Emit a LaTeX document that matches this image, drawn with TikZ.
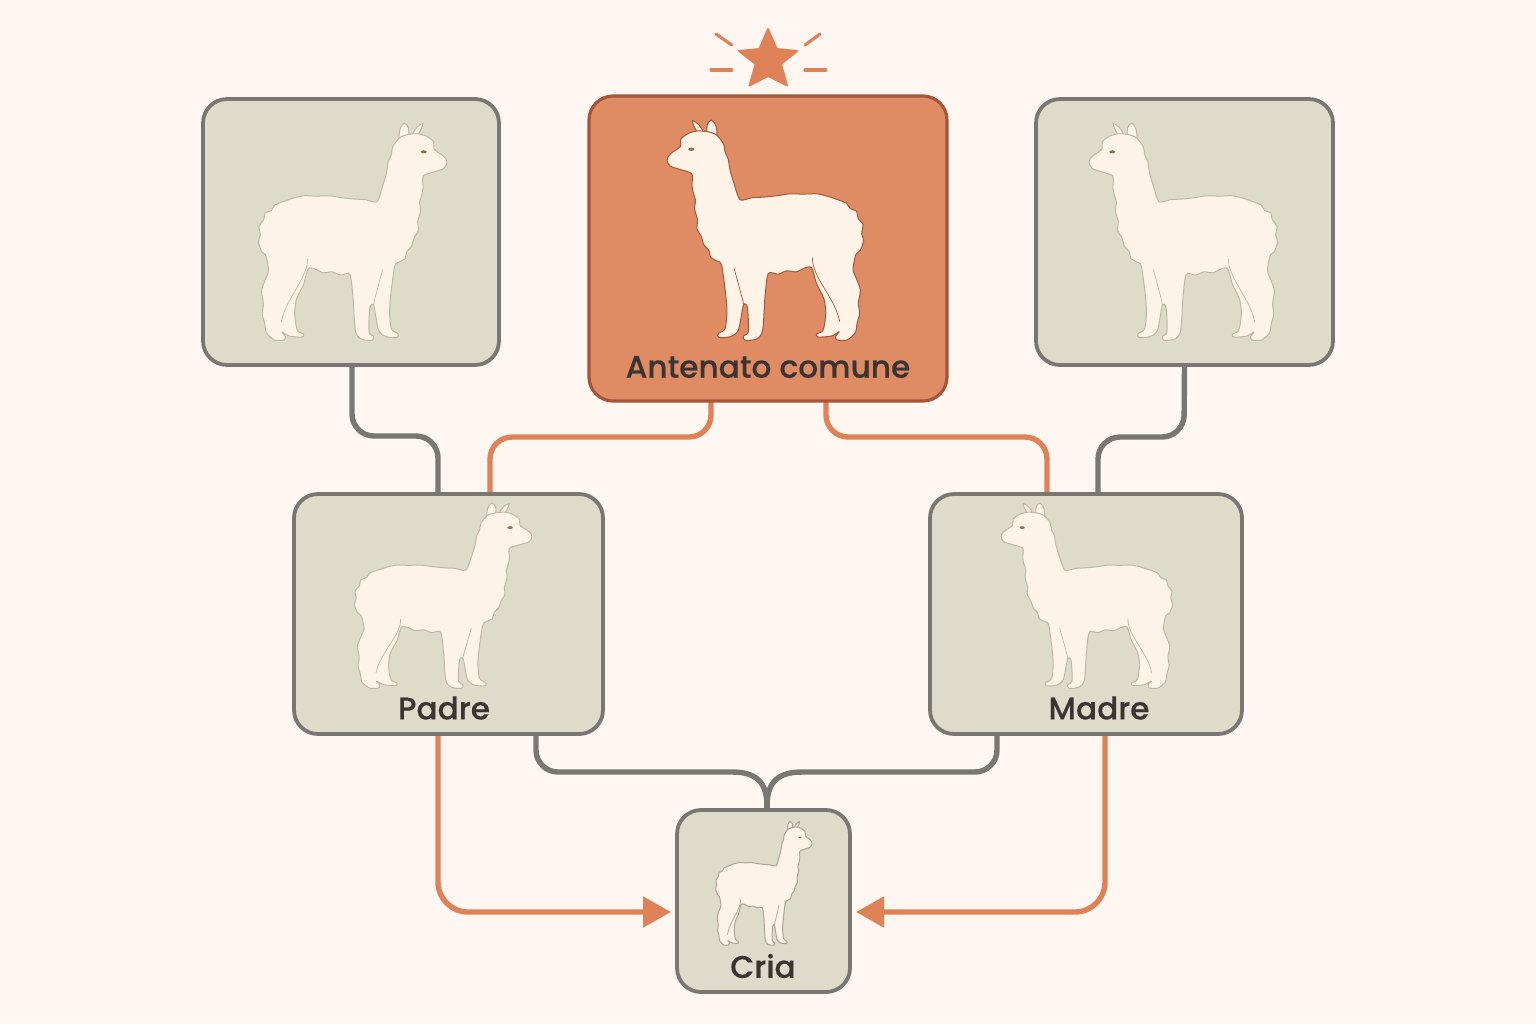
\documentclass[tikz,border=0pt]{standalone}
\usepackage{fontspec}
\setmainfont{Poppins}
\newfontfamily\labfont{Poppins Medium}[FakeBold=0.3]
\usetikzlibrary{arrows.meta}
\definecolor{bgc}{HTML}{FEF7F1}
\definecolor{boxfill}{HTML}{DEDBCA}
\definecolor{boxedge}{HTML}{7A7672}
\definecolor{hotfill}{HTML}{DF8B63}
\definecolor{hotedge}{HTML}{A5553A}
\definecolor{lineor}{HTML}{DF8257}
\definecolor{fleece}{HTML}{FDF3E7}
\definecolor{txt}{HTML}{3A3532}
\definecolor{softedge}{HTML}{BDB8A6}
\definecolor{eyec}{HTML}{8A6F58}
\pgfdeclarelayer{under}
\pgfsetlayers{under,main}
\tikzset{
  kinbox/.style={draw=boxedge,fill=boxfill,line width=1.9pt,rounded corners=12pt,inner sep=0pt,outer sep=0pt},
  hotbox/.style={kinbox,draw=hotedge,fill=hotfill,line width=1.6pt},
  kinlabel/.style={text=txt,font=\labfont\fontsize{15.6}{18}\selectfont,inner sep=0pt},
  greyline/.style={draw=boxedge,line width=2.7pt,rounded corners=11pt},
  orline/.style={draw=lineor,line width=2.7pt,rounded corners=11pt},
  orarrow/.style={orline,rounded corners=15pt,-{Triangle[length=14pt,width=15pt]}},
  ray/.style={draw=lineor,line width=1.6pt,line cap=round},
}
\newcommand{\alpaca}[5]{%
\begin{scope}[shift={(#1,#2)},xscale={(#3-#1)/590},yscale={(#4-#2)/662},shift={(-230,-298)}]
  \draw[fill=fleece,draw=#5,line width=0.5pt,line join=round] (322,336) .. controls (312,320) and (306,308) .. (306,299) .. controls (320,304) and (332,316) .. (340,336) -- cycle;
  \draw[fill=fleece,draw=#5,line width=0.5pt,line join=round] (352,340) .. controls (346,318) and (352,302) .. (364,298) .. controls (378,306) and (382,326) .. (380,350) -- cycle;
  \draw[fill=fleece,draw=#5,line width=0.5pt,line join=round]
   plot[smooth cycle,tension=0.45] coordinates {
   (230,418)(240,400)(270,378)(272,355)(295,338)(322,331)(350,333)(378,342)
   (400,370)(405,395)(414,415)(420,450)(432,490)(450,538)(485,532)(520,530)(560,526)(600,520)(640,521)(680,520)(715,528)(750,540)
   (770,548)(782,565)(800,572)(806,595)(820,612)(816,640)(822,660)(812,690)(800,700)(795,715)(790,750)(800,775)
   (812,810)(806,850)(810,880)(802,910)(797,938)(772,960)(742,960)(737,950)(748,935)(725,948)(685,951)(680,942)(700,930)(708,880)(702,835)(680,790)(665,742)
   (640,745)(620,755)(590,752)(565,762)(535,760)(525,830)(518,930)(500,957)(465,961)(460,948)(475,935)(472,862)(460,855)(445,930)(420,950)(385,952)(385,940)(405,925)(410,860)(395,738)
   (380,722)(362,712)(356,690)(340,672)(334,650)(320,625)(322,600)(313,565)(316,540)(310,520)(305,495)(305,460)(270,447)(240,437)};
  \draw[draw=#5,line width=0.35pt] (432,745) .. controls (445,790) and (455,830) .. (462,856);
  \draw[draw=#5,line width=0.35pt] (668,712) .. controls (665,770) and (735,830) .. (750,905);
  \fill[fill=eyec] (303,386) ellipse (9 and 5);
\end{scope}}
\begin{document}
\begin{tikzpicture}[x=0.5pt,y=-0.5pt]
\path[use as bounding box] (0,0) rectangle (1536,1024);
\begin{pgfonlayer}{under}
\fill[bgc] (0,0) rectangle (1536,1024);
\end{pgfonlayer}
% boxes
\node[kinbox,minimum width=148pt,minimum height=133pt] (gpa) at (351,232) {};
\node[hotbox,minimum width=179pt,minimum height=152.5pt] (anc) at (768,248.5) {};
\node[kinbox,minimum width=148.5pt,minimum height=133pt] (gma) at (1184.5,232) {};
\node[kinbox,minimum width=154.5pt,minimum height=120pt] (padre) at (448.5,614) {};
\node[kinbox,minimum width=156pt,minimum height=120pt] (madre) at (1086,614) {};
\node[kinbox,minimum width=86.5pt,minimum height=91pt] (cria) at (763.5,901) {};
% alpacas
\alpaca{447}{123}{259}{340}{softedge}
\alpaca{667}{120}{863}{340}{hotedge}
\alpaca{1089}{123}{1277}{340}{softedge}
\alpaca{532}{503}{355}{688}{softedge}
\alpaca{1001}{503}{1172}{688}{softedge}
\alpaca{812}{821}{716}{945}{softedge!70!boxedge}
% labels
\node[kinlabel] (lanc) at (768,367) {Antenato comune};
\node[kinlabel] (lpad) at (444,708) {Padre};
\node[kinlabel] (lmad) at (1099,708) {Madre};
\node[kinlabel] (lcri) at (763,966) {Cria};
% connectors
\begin{pgfonlayer}{under}
\draw[greyline] (gpa.south -| 352,0) -- (352,436) -- (438,436) -- (padre.north -| 438,0);
\draw[greyline] (gma.south) -- (1184,437) -- (1098,437) -- (madre.north -| 1098,0);
\draw[orline] (anc.south -| 711,0) -- (711,437) -- (490,437) -- (padre.north -| 490,0);
\draw[orline] (anc.south -| 826,0) -- (826,437) -- (1047,437) -- (madre.north -| 1047,0);
\draw[greyline,rounded corners=0pt] (padre.south -| 536,0) [rounded corners=11pt] -- (536,772) -- (600,772) [sharp corners] -- (732,772) .. controls (756,772) and (767,782) .. (767,806);
\draw[greyline,rounded corners=0pt] (madre.south -| 997,0) [rounded corners=11pt] -- (997,772) -- (930,772) [sharp corners] -- (802,772) .. controls (778,772) and (767,782) .. (767,806);
\draw[greyline,sharp corners] (767,800) -- (cria.north -| 767,0);
\draw[orarrow] (padre.south -| 438,0) -- (438,912) -- (671,912);
\draw[orarrow] (madre.south -| 1105,0) -- (1105,912) -- (856,912);
\end{pgfonlayer}
% star
\fill[lineor,draw=lineor,line width=1pt,line join=round] (768,29) -- (776.7,49) -- (797,51) -- (781,64) -- (787,85.5) -- (768,76) -- (749.5,85.5) -- (755.7,64) -- (739,51) -- (759.3,49) -- cycle;
\draw[ray] (716,34) -- (731.7,45);
\draw[ray] (820,34) -- (805,45);
\draw[ray] (711,70) -- (731.7,70);
\draw[ray] (805,70) -- (825.7,70);
\end{tikzpicture}
\end{document}
